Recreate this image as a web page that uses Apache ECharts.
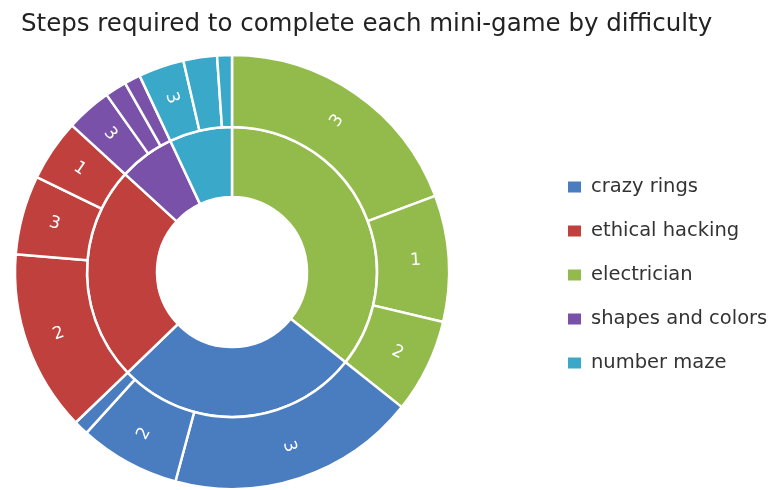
<!DOCTYPE html>
<html>
<head>
<meta charset="utf-8">
<script src="https://cdn.jsdelivr.net/npm/echarts@6/dist/echarts.min.js"></script>
<style>
html,body{margin:0;padding:0;background:#fff;}
#chart{width:768px;height:490px;}
</style>
</head>
<body>
<div id="chart"></div>
<script>
// Games in drawing order (clockwise from 12 o'clock)
const games = ['electrician', 'crazy rings', 'ethical hacking', 'shapes and colors', 'number maze'];
// Legend order
const legendOrder = ['crazy rings', 'ethical hacking', 'electrician', 'shapes and colors', 'number maze'];
// Difficulty labels of each outer segment, per game
const difficultyLabels = [
  ['3', '1', '2'],
  ['3', '2', '1'],
  ['2', '3', '1'],
  ['3', '2', '1'],
  ['3', '2', '1']
];
// Steps per difficulty (estimated, share of total), per game
const stepValues = [
  [19.3, 9.4, 7.0],
  [18.5, 7.5, 1.1],
  [13.5, 5.9, 4.6],
  [3.4, 1.6, 1.2],
  [3.4, 2.5, 1.1]
];

const colorMap = {
  'crazy rings': '#4a7cc0',
  'ethical hacking': '#c0403e',
  'electrician': '#93bb4b',
  'shapes and colors': '#7a51a8',
  'number maze': '#3aa8c8'
};

const innerData = games.map((g, i) => ({
  name: g,
  value: stepValues[i].reduce((a, b) => a + b, 0),
  itemStyle: { color: colorMap[g] }
}));
const outerData = [];
games.forEach((g, i) => {
  stepValues[i].forEach((v, j) => {
    outerData.push({ name: difficultyLabels[i][j], value: v, itemStyle: { color: colorMap[g] } });
  });
});

const chart = echarts.init(document.getElementById('chart'), null, { renderer: 'canvas' });
const font = 'DejaVu Sans';
chart.setOption({
  animation: false,
  title: {
    text: 'Steps required to complete each mini-game by difficulty',
    left: 16,
    top: 7,
    textStyle: { fontFamily: font, fontSize: 24.5, fontWeight: 'normal', color: '#222' }
  },
  legend: {
    data: legendOrder,
    orient: 'vertical',
    left: 561,
    top: 172,
    icon: 'rect',
    itemWidth: 15,
    itemHeight: 13,
    itemGap: 24,
    selectedMode: false,
    textStyle: { fontFamily: font, fontSize: 19.5, color: '#333', padding: [0, 0, 0, 4] }
  },
  series: [
    {
      type: 'pie',
      center: [232, 272],
      radius: [75, 145],
      startAngle: 90,
      clockwise: true,
      label: { show: false },
      labelLine: { show: false },
      emphasis: { disabled: true },
      itemStyle: { borderColor: '#fff', borderWidth: 2.5 },
      data: innerData
    },
    {
      type: 'pie',
      center: [232, 272],
      radius: [145, 217],
      startAngle: 90,
      clockwise: true,
      minShowLabelAngle: 11,
      label: {
        show: true,
        position: 'inside',
        rotate: 'radial',
        formatter: '{b}',
        fontFamily: font,
        fontSize: 17,
        color: '#fff'
      },
      labelLine: { show: false },
      emphasis: { disabled: true },
      itemStyle: { borderColor: '#fff', borderWidth: 2.5 },
      data: outerData
    }
  ]
});
</script>
</body>
</html>
